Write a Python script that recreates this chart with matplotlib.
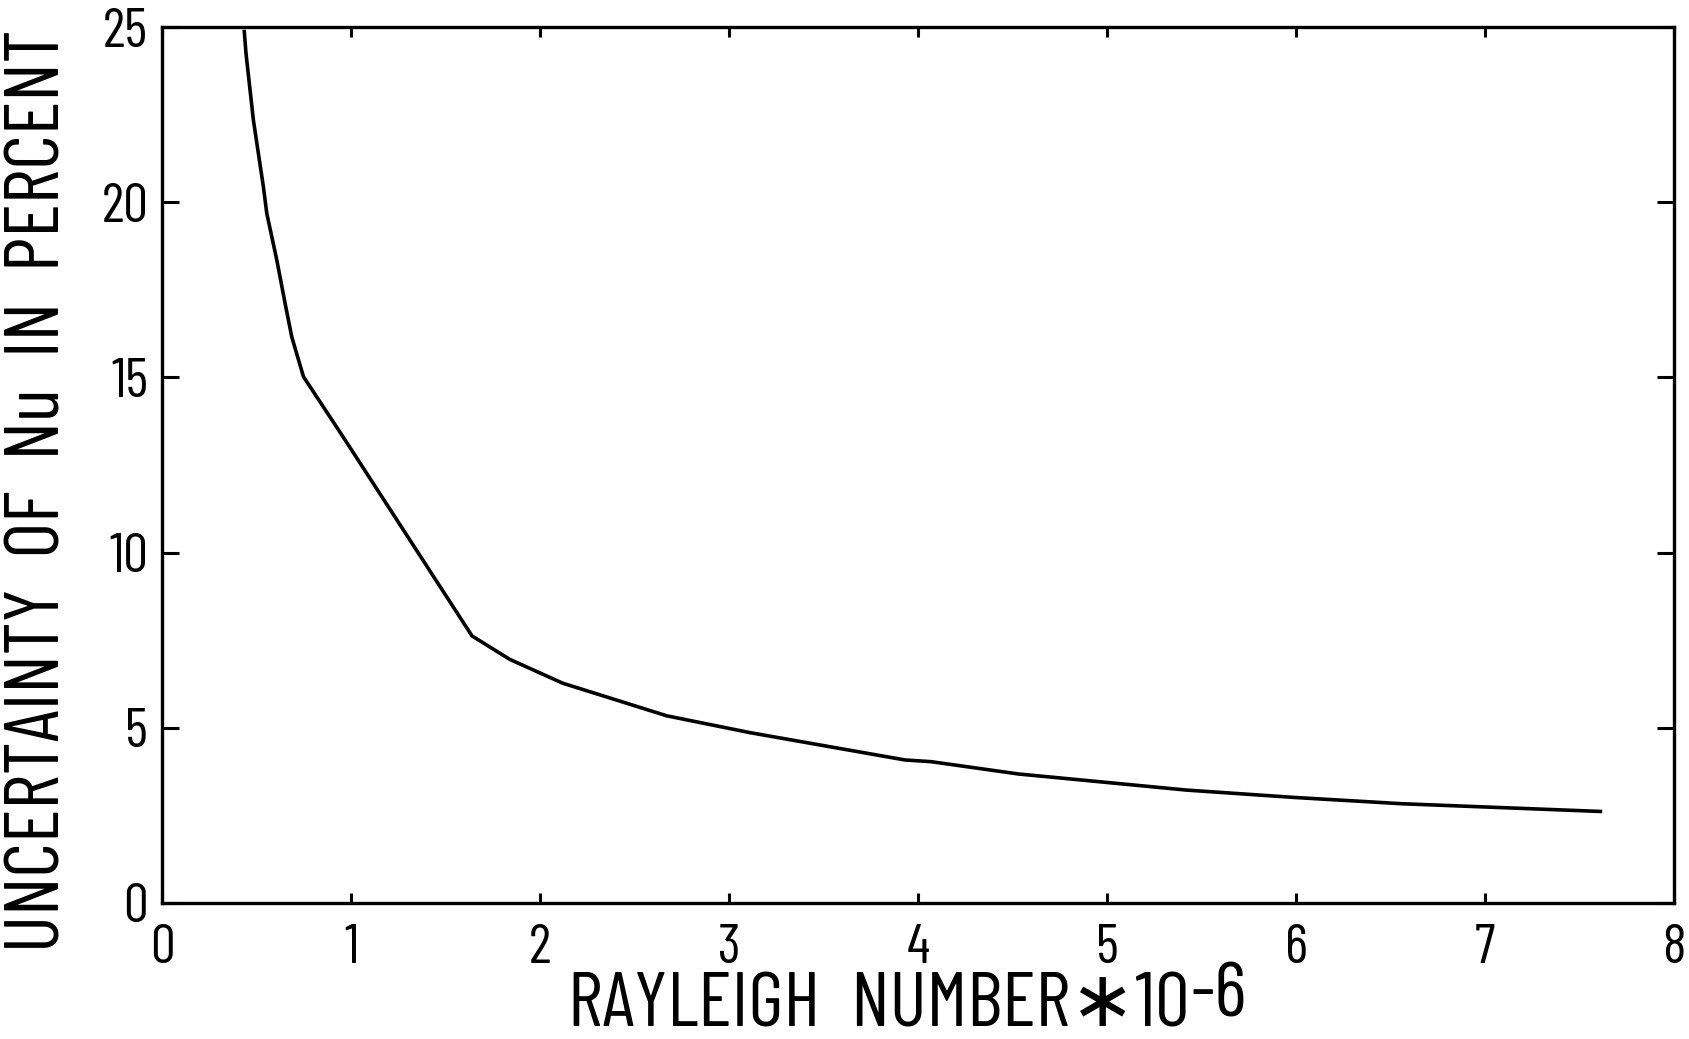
import numpy as np
import matplotlib
matplotlib.use("Agg")
import matplotlib.pyplot as plt

plt.rcParams['font.family'] = ['Barlow Condensed', 'DejaVu Sans']

# values
rayleigh = [0.435, 0.444, 0.483, 0.536, 0.554, 0.607, 0.651, 0.686, 0.748,
            0.97, 1.33, 1.64, 1.84, 2.12, 2.67, 3.11, 3.93, 4.07, 4.53,
            5.42, 5.99, 6.56, 7.61]
uncert = [24.87, 24.25, 22.35, 20.44, 19.68, 18.35, 17.11, 16.16, 15.02,
          13.2, 10.2, 7.62, 6.95, 6.27, 5.34, 4.86, 4.08, 4.03, 3.68,
          3.22, 3.01, 2.83, 2.61]
xticks = [0, 1, 2, 3, 4, 5, 6, 7, 8]
yticks = [0, 5, 10, 15, 20, 25]

fig = plt.figure(figsize=(16.9, 10.39), dpi=100)
ax = fig.add_axes([0.0959, 0.131, 0.8947, 0.843])

ax.plot(rayleigh, uncert, color='black', lw=2.6)

ax.set_xlim(0, 8)
ax.set_ylim(0, 25)
ax.set_xticks(xticks)
ax.set_yticks(yticks)
ax.tick_params(direction='in', top=True, right=True, width=2.2,
               labelsize=40, colors='black')
ax.tick_params(axis='x', length=7.5, pad=15)
ax.tick_params(axis='y', length=12.5, pad=10)
for s in ax.spines.values():
    s.set_linewidth(2.4)

xl = fig.text(0.336, 0.012, 'RAYLEIGH  NUMBER\u221710', fontsize=56,
              ha='left', va='baseline')
ax.annotate('-6', xy=(1, 0), xycoords=xl, xytext=(1, 7),
            textcoords='offset points', fontsize=56,
            ha='left', va='bottom')
fig.text(0.024, 0.528, 'UNCERTAINTY  OF  Nu  IN  PERCENT', fontsize=56,
         rotation=90, ha='center', va='center')

fig.savefig('out.png', dpi=100, facecolor='white')
